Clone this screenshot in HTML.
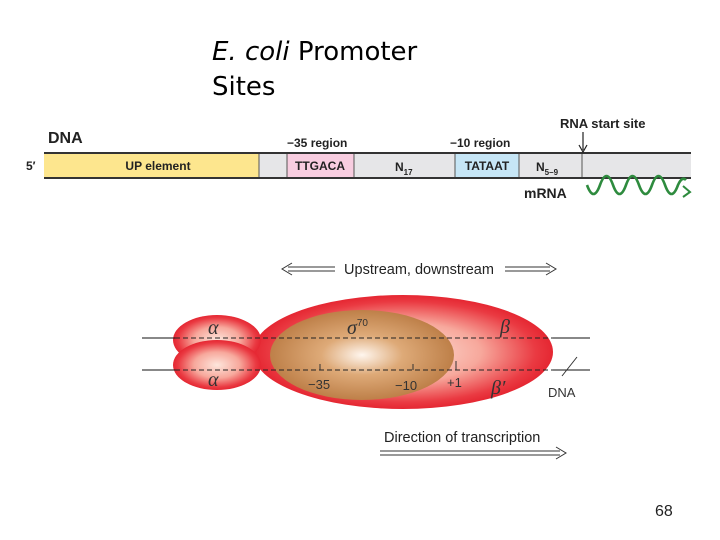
<!DOCTYPE html>
<html><head><meta charset="utf-8"><style>
html,body{margin:0;padding:0;background:#fff;}
svg{display:block;font-family:"Liberation Sans",sans-serif;}
</style></head><body>
<svg width="720" height="540" viewBox="0 0 720 540" xmlns="http://www.w3.org/2000/svg">
<defs>
<radialGradient id="red" cx="50%" cy="50%" r="52%">
<stop offset="0" stop-color="#fde6dc"/><stop offset="0.5" stop-color="#f7a89c"/><stop offset="0.85" stop-color="#ea3a42"/><stop offset="1" stop-color="#e3202c"/>
</radialGradient>
<radialGradient id="brown" cx="50%" cy="50%" r="55%">
<stop offset="0" stop-color="#fff6ee"/><stop offset="0.4" stop-color="#deaa78"/><stop offset="1" stop-color="#b87840"/>
</radialGradient>
</defs>
<text x="212" y="60" font-size="26" font-family="DejaVu Sans,sans-serif"><tspan font-style="italic">E. coli</tspan> Promoter</text>
<text x="212" y="95" font-size="26" font-family="DejaVu Sans,sans-serif">Sites</text>
<!-- DNA bar -->
<rect x="44" y="153" width="647" height="25" fill="#e6e6e8"/>
<rect x="44" y="153" width="215" height="25" fill="#fde68e"/>
<rect x="287" y="153" width="67" height="25" fill="#f8cde0"/>
<rect x="455" y="153" width="64" height="25" fill="#c6e6f6"/>
<g stroke="#555" stroke-width="1"><line x1="259" y1="153" x2="259" y2="178"/><line x1="287" y1="153" x2="287" y2="178"/><line x1="354" y1="153" x2="354" y2="178"/><line x1="455" y1="153" x2="455" y2="178"/><line x1="519" y1="153" x2="519" y2="178"/><line x1="582" y1="153" x2="582" y2="178"/></g>
<line x1="44" y1="153" x2="691" y2="153" stroke="#333" stroke-width="2"/>
<line x1="44" y1="178" x2="691" y2="178" stroke="#333" stroke-width="2"/>
<g font-weight="bold" fill="#222">
<text x="48" y="143" font-size="16">DNA</text>
<text x="26" y="170" font-size="12">5′</text>
<text x="158" y="170" font-size="12" text-anchor="middle">UP element</text>
<text x="320" y="170" font-size="12" text-anchor="middle">TTGACA</text>
<text x="487" y="170" font-size="12" text-anchor="middle">TATAAT</text>
<text x="395" y="171" font-size="12">N<tspan font-size="8" dy="4">17</tspan></text>
<text x="536" y="171" font-size="12">N<tspan font-size="8" dy="4">5–9</tspan></text>
<text x="287" y="147" font-size="12">−35 region</text>
<text x="450" y="147" font-size="12">−10 region</text>
<text x="560" y="128" font-size="13">RNA start site</text>
<text x="524" y="198" font-size="14">mRNA</text>
</g>
<line x1="583" y1="132" x2="583" y2="150" stroke="#222" stroke-width="1.2"/>
<path d="M579,145 L583,152 L587,145" fill="none" stroke="#222" stroke-width="1.2"/>
<path d="M587,185 q6.5,18 13,0 q6.5,-18 13,0 q6.5,18 13,0 q6.5,-18 13,0 q6.5,18 13,0 q6.5,-18 13,0 q6.5,18 13,0 q4,-9 8,-5" fill="none" stroke="#2e8b3e" stroke-width="2.6"/>
<path d="M683,186 L690,192 L683,197" fill="none" stroke="#2e8b3e" stroke-width="2"/>
<!-- enzyme -->
<ellipse cx="403" cy="352" rx="150" ry="57" fill="url(#red)"/>
<ellipse cx="217" cy="340" rx="44" ry="25" fill="url(#red)"/>
<ellipse cx="217" cy="365" rx="44" ry="25" fill="url(#red)"/>
<ellipse cx="362" cy="355" rx="92" ry="45" fill="url(#brown)"/>
<line x1="142" y1="338" x2="175" y2="338" stroke="#111"/><line x1="142" y1="370" x2="175" y2="370" stroke="#111"/>
<line x1="553" y1="338" x2="590" y2="338" stroke="#111"/><line x1="553" y1="370" x2="590" y2="370" stroke="#111"/>
<line x1="175" y1="338" x2="553" y2="338" stroke="#222" stroke-dasharray="5,3"/>
<line x1="175" y1="370" x2="553" y2="370" stroke="#222" stroke-dasharray="5,3"/>
<g stroke="#333"><line x1="320" y1="370" x2="320" y2="364"/><line x1="413" y1="370" x2="413" y2="364"/><line x1="456" y1="370" x2="456" y2="361"/><line x1="562" y1="376" x2="577" y2="357"/></g>
<g font-size="13" fill="#333">
<text x="308" y="389">−35</text><text x="395" y="390">−10</text><text x="447" y="387">+1</text><text x="548" y="397">DNA</text>
</g>
<g font-family="Liberation Serif,serif" font-style="italic" font-size="20" fill="#333">
<text x="208" y="334">α</text><text x="208" y="386">α</text><text x="347" y="334">σ<tspan font-size="10" font-style="normal" dy="-8" font-family="Liberation Sans,sans-serif">70</tspan></text>
<text x="500" y="333">β</text><text x="491" y="394">β′</text>
</g>
<text x="419" y="274" font-size="14.5" text-anchor="middle" fill="#222">Upstream, downstream</text>
<g stroke="#333" fill="none" stroke-width="1">
<line x1="288" y1="267" x2="335" y2="267"/><line x1="288" y1="271" x2="335" y2="271"/><path d="M292,263 L282,269 L292,275"/>
<line x1="505" y1="267" x2="550" y2="267"/><line x1="505" y1="271" x2="550" y2="271"/><path d="M546,263 L556,269 L546,275"/>
<line x1="380" y1="451" x2="560" y2="451"/><line x1="380" y1="455" x2="560" y2="455"/><path d="M556,447 L566,453 L556,459"/>
</g>
<text x="384" y="442" font-size="14.5" fill="#222">Direction of transcription</text>
<text x="655" y="516" font-size="16" fill="#222">68</text>
</svg>
</body></html>
